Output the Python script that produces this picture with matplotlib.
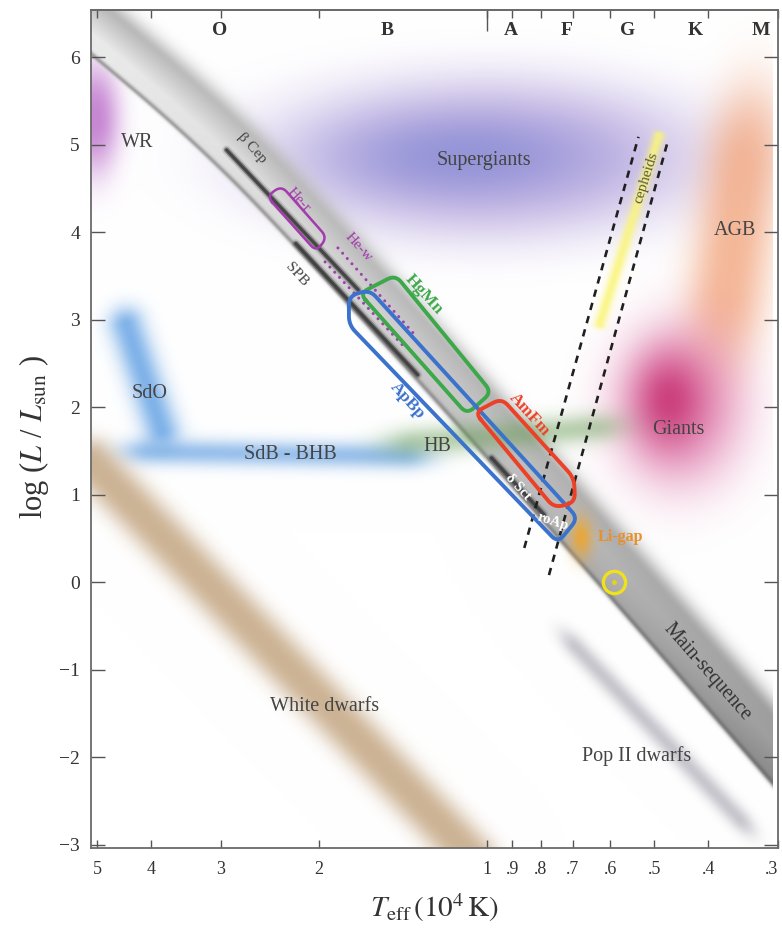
import numpy as np
import matplotlib
matplotlib.use("Agg")
import matplotlib.pyplot as plt

plt.rcParams['font.family'] = ['Liberation Serif', 'DejaVu Serif']
plt.rcParams['mathtext.fontset'] = 'stix'

# ---------------- axes ----------------
teff_ticks = [5, 4, 3, 2, 1, 0.9, 0.8, 0.7, 0.6, 0.5, 0.4, 0.3]
teff_labels = ['5', '4', '3', '2', '1', '.9', '.8', '.7', '.6', '.5', '.4', '.3']
logl_ticks = [-3, -2, -1, 0, 1, 2, 3, 4, 5, 6]
teff_range = [5.13, 0.307]          # 10^4 K
logl_range = [-3.04, 6.54]

spec_classes = ['O', 'B', 'A', 'F', 'G', 'K', 'M']
spec_teff = [3.01, 1.51, 0.906, 0.718, 0.559, 0.423, 0.322]

# ---------------- main-sequence ridge (Teff, log L) ----------------
ms_teff = [5.82, 5.13, 3.28, 2.18, 0.742, 0.281]
ms_logl = [6.73, 6.43, 5.39, 4.27, 0.96, -2.13]

# ---------------- populated regions ----------------
wr_teff, wr_logl = 5.05, 5.30
sg_teff, sg_logl = 1.00, 4.85
sg_core_teff, sg_core_logl = 1.10, 4.87
agb_teff, agb_logl = [0.348, 0.371], [4.71, 3.34]
giants_teff, giants_logl = 0.450, 2.00
giants_core_teff, giants_core_logl = 0.472, 2.08
cep_teff, cep_logl = [0.492, 0.629], [5.11, 2.94]
sdo_teff, sdo_logl = [4.43, 3.83], [2.94, 1.74]
sdb_teff, sdb_logl = [4.03, 1.416], [1.49, 1.44]
hb_teff, hb_logl = [1.343, 0.650], [1.60, 1.76]
wd_teff, wd_logl = [5.13, 1.063], [1.37, -3.14]
pop2_teff, pop2_logl = [0.692, 0.354], [-0.75, -2.70]
ligap_teff, ligap_logl = 0.678, 0.51
sun_teff, sun_logl = 0.59, 0.0

# instability strip boundaries
strip_blue_teff, strip_blue_logl = [0.856, 0.534], [0.39, 5.09]
strip_red_teff, strip_red_logl = [0.773, 0.474], [0.08, 5.02]

# pulsator sequences
bcep_teff, bcep_logl = [2.93, 1.70], [4.94, 3.34]
spb_teff, spb_logl = [2.20, 1.33], [3.87, 2.37]
dsct_teff, dsct_logl = [0.98, 0.789], [1.42, 0.77]
hew_teff = [[1.849, 1.343], [1.950, 1.416]]
hew_logl = [[3.82, 2.82], [3.66, 2.71]]

# chemically peculiar groups (outline corners)
her_teff, her_logl = [2.48, 2.335, 1.934, 2.023], [4.41, 4.53, 3.94, 3.78]
hgmn_teff, hgmn_logl = [1.690, 1.458, 0.980, 1.085], [3.30, 3.51, 2.17, 1.92]
apbp_teff = [1.767, 1.622, 0.686, 0.745, 1.767]
apbp_logl = [3.27, 3.34, 0.73, 0.45, 2.94]
amfm_teff = [1.050, 0.940, 0.697, 0.694, 0.757]
amfm_logl = [1.94, 2.10, 1.19, 0.91, 0.85]

# region names
region_names = ['WR', 'Supergiants', 'AGB', 'Giants', 'SdO', 'SdB - BHB', 'HB',
                'White dwarfs', 'Pop II dwarfs']
region_teff = [4.23, 1.012, 0.359, 0.4535, 4.03, 2.25, 1.227, 1.958, 0.537]
region_logl = [5.02, 4.82, 4.02, 1.74, 2.16, 1.46, 1.55, -1.42, -1.99]

# ---------------- figure ----------------
fig = plt.figure(figsize=(7.82, 9.40), dpi=100)
ax = fig.add_axes([91 / 782, 92 / 940, 687 / 782, 838 / 940])
lg = np.log10
ax.set_xlim(lg(teff_range[0]), lg(teff_range[1]))
ax.set_ylim(*logl_range)

bb = ax.bbox
W, H = bb.width, bb.height


def to_px(T, L):
    pts = ax.transData.transform(np.column_stack([lg(np.atleast_1d(T)),
                                                  np.atleast_1d(L)]))
    return pts[:, 0] - bb.x0, bb.y1 - pts[:, 1]


def from_px(u, v):
    d = ax.transData.inverted().transform(np.column_stack([u + bb.x0, bb.y1 - v]))
    return d[:, 0], d[:, 1]


def chaikin(P, iters=4):
    for _ in range(iters):
        Q = [P[0]]
        for a, b in zip(P[:-1], P[1:]):
            Q.append(0.75 * a + 0.25 * b)
            Q.append(0.25 * a + 0.75 * b)
        Q.append(P[-1])
        P = np.array(Q)
    return P


S = 1.5
nx, ny = int(W * S), int(H * S)
UU, VV = np.meshgrid((np.arange(nx) + 0.5) / S, (np.arange(ny) + 0.5) / S)
img = np.ones((ny, nx, 3))


def paint(alpha, rgb, amp=1.0):
    a = (amp * alpha)[..., None]
    col = np.asarray(rgb, dtype=float) / 255.0
    img[:] = img * (1 - a) + col * a


def blob(T, L, a, b, p=1.0):
    u, v = to_px(T, L)
    r2 = ((UU - u[0]) / a) ** 2 + ((VV - v[0]) / b) ** 2
    return np.exp(-r2 ** p)


def streak(T, L, hw, he=None, p=1.0):
    u, v = to_px(T, L)
    du, dv = u[1] - u[0], v[1] - v[0]
    ln = np.hypot(du, dv)
    ex, ey = du / ln, dv / ln
    rx, ry = UU - u[0], VV - v[0]
    t = rx * ex + ry * ey
    d = -rx * ey + ry * ex
    e = np.maximum(0, -t) + np.maximum(0, t - ln)
    he = hw if he is None else he
    r2 = (d / hw) ** 2 + (e / he) ** 2
    return np.exp(-r2 ** p)


# regions lying behind the main sequence
paint(blob(wr_teff, wr_logl, 25, 55, 1.2), (185, 105, 200), 0.8)
paint(blob(sg_teff, sg_logl, 225, 82, 1.6), (170, 148, 215), 0.72)
paint(blob(sg_core_teff, sg_core_logl, 130, 42, 1.1), (105, 120, 205), 0.5)

# main-sequence band: signed distance from the (smoothed) ridge
mu, mv = to_px(ms_teff, ms_logl)
R = chaikin(np.column_stack([mu, mv]))
mu, mv = R[:, 0], R[:, 1]
best = np.full(UU.shape, np.inf)
sd = np.zeros(UU.shape)
for i in range(len(mu) - 1):
    du, dv = mu[i + 1] - mu[i], mv[i + 1] - mv[i]
    ln = np.hypot(du, dv)
    ex, ey = du / ln, dv / ln
    rx, ry = UU - mu[i], VV - mv[i]
    t = np.clip(rx * ex + ry * ey, 0, ln)
    dist = np.hypot(rx - t * ex, ry - t * ey)
    m = dist < best
    best[m] = dist[m]
    sd[m] = (-rx * ey + ry * ex)[m]
s = np.clip(UU / W, 0, 1)
g = 234 - 76 * s ** 1.5
g -= 55 * np.clip((10 - sd) / 30, 0, 1) * (1 - s) ** 1.2
g -= 25 * s * np.clip(sd / 29, 0, 1)
g -= 85 * np.exp(-((sd - 26.5) / 2.5) ** 2) * (1 - 0.6 * s)
a_band = 1 / (1 + np.exp((sd - 28.5) / 1.0))
a_band *= np.exp(-(np.maximum(0, -sd - 16) / 14) ** 2)
ab = a_band[..., None]
img[:] = img * (1 - ab) + (g[..., None] / 255.0) * ab

# remaining regions
paint(streak(agb_teff, agb_logl, 40, 85, 1.2), (242, 165, 125), 0.78)
paint(blob(giants_teff, giants_logl, 68, 82, 1.3), (222, 118, 170), 0.72)
paint(blob(giants_core_teff, giants_core_logl, 36, 48, 1.0), (195, 35, 105), 0.75)
paint(streak(cep_teff, cep_logl, 6, 4, 1.0), (250, 245, 120), 0.85)
paint(streak(sdo_teff, sdo_logl, 18, 18, 1.0), (80, 150, 225), 0.72)
paint(streak(sdb_teff, sdb_logl, 13, 30, 1.0), (100, 160, 225), 0.65)
paint(streak(hb_teff, hb_logl, 15, 35, 1.0), (100, 155, 80), 0.45)
paint(streak(wd_teff, wd_logl, 24, 24, 1.3), (185, 150, 108), 0.72)
paint(streak(pop2_teff, pop2_logl, 10, 22, 1.0), (130, 130, 145), 0.45)
paint(blob(ligap_teff, ligap_logl, 11, 20, 1.0), (240, 165, 40), 0.85)

xl, yl = ax.get_xlim(), ax.get_ylim()
ax.imshow(img, extent=(xl[0], xl[1], yl[0], yl[1]), origin='upper',
          aspect='auto', interpolation='bilinear', zorder=0)
ax.set_xlim(xl)
ax.set_ylim(yl)


def disp_angle(T, L):
    u, v = to_px(T, L)
    return np.degrees(np.arctan2(-(v[-1] - v[0]), u[-1] - u[0]))


# pulsator sequences (soft dark stripes)
for tt, ll in [(bcep_teff, bcep_logl), (spb_teff, spb_logl), (dsct_teff, dsct_logl)]:
    for lw, al in [(6.5, 0.15), (4.0, 0.45), (2.2, 0.85)]:
        ax.plot(lg(tt), ll, color='#3a3a3a', lw=lw, alpha=al,
                solid_capstyle='round', zorder=2)

# He-w dotted band
for tt, ll in zip(hew_teff, hew_logl):
    ax.plot(lg(tt), ll, color='#a040b0', lw=2.2, ls=(0, (0.01, 2.3)),
            dash_capstyle='round', zorder=3)

# instability strip
for tt, ll in [(strip_blue_teff, strip_blue_logl), (strip_red_teff, strip_red_logl)]:
    ax.plot(lg(tt), ll, color='#202020', lw=1.9, ls=(0, (2.8, 2.4)), zorder=3)


def rounded_outline(T, L, r=9.0, n=10):
    u, v = to_px(T, L)
    P = np.column_stack([u, v])
    m = len(P)
    out = []
    for i in range(m):
        A, B, C = P[i - 1], P[i], P[(i + 1) % m]
        l1, l2 = np.linalg.norm(A - B), np.linalg.norm(C - B)
        rr = min(r, 0.45 * l1, 0.45 * l2)
        p1 = B + rr * (A - B) / l1
        p2 = B + rr * (C - B) / l2
        t = np.linspace(0, 1, n)[:, None]
        out.append((1 - t) ** 2 * p1 + 2 * (1 - t) * t * B + t ** 2 * p2)
    out = np.vstack(out + [out[0][:1]])
    return from_px(out[:, 0], out[:, 1])


for tt, ll, col, lw in [(her_teff, her_logl, '#a33aae', 1.8),
                        (hgmn_teff, hgmn_logl, '#3da84a', 2.8),
                        (apbp_teff, apbp_logl, '#3a72cc', 2.8),
                        (amfm_teff, amfm_logl, '#ec4128', 2.8)]:
    x, y = rounded_outline(tt, ll)
    ax.plot(x, y, color=col, lw=lw, solid_joinstyle='round', zorder=4)

# the Sun
ax.plot(lg(sun_teff), sun_logl, 'o', ms=16, mfc='none', mec='#f0e01e', mew=2.4, zorder=5)
ax.plot(lg(sun_teff), sun_logl, 'o', ms=2.5, color='#e6d21e', zorder=5)

# ---------------- labels ----------------
txt_col = '#444444'
for name, tt, ll in zip(region_names, region_teff, region_logl):
    ax.text(lg(tt), ll, name, fontsize=14.5, color=txt_col, ha='center',
            va='center', zorder=6)

ang_ms = disp_angle(ms_teff[-2:], ms_logl[-2:])
ax.text(lg(0.4027), -1.03, 'Main-sequence', fontsize=14.5, color='#333333',
        rotation=ang_ms, rotation_mode='anchor', ha='center', va='center', zorder=6)

ang = disp_angle(ms_teff[3:5], ms_logl[3:5])
rot_labels = [('β Cep', 2.641, 4.96, '#444444', 11, 'normal'),
              ('SPB', 2.196, 3.51, '#444444', 11, 'normal'),
              ('He-r', 2.178, 4.37, '#a33aae', 11, 'normal'),
              ('He-w', 1.696, 3.83, '#a33aae', 11, 'normal'),
              ('HgMn', 1.294, 3.29, '#3da84a', 12.5, 'bold'),
              ('ApBp', 1.388, 2.07, '#3a72cc', 12.5, 'bold'),
              ('AmFm', 0.839, 1.91, '#ec4128', 12.5, 'bold'),
              ('δ Sct', 0.877, 1.09, 'white', 10.5, 'bold')]
for name, tt, ll, col, fs, fw in rot_labels:
    ax.text(lg(tt), ll, name, fontsize=fs, color=col, fontweight=fw,
            rotation=ang, rotation_mode='anchor', ha='center', va='center', zorder=6)

ax.text(lg(0.760), 0.69, 'roAp', fontsize=10.5, color='white', fontweight='bold',
        rotation=-18, rotation_mode='anchor', ha='center', va='center', zorder=6)
ax.text(lg(0.575), 0.51, 'Li-gap', fontsize=11.5, color='#e8902a', fontweight='bold',
        ha='center', va='center', zorder=6)
ax.text(lg(0.517), 4.62, 'cepheids', fontsize=11, color='#5a5a3a',
        rotation=disp_angle(cep_teff[::-1], cep_logl[::-1]), rotation_mode='anchor',
        ha='center', va='center', zorder=6)

# spectral classes along the top
for c, tt in zip(spec_classes, spec_teff):
    ax.text(lg(tt), 0.976, c, transform=ax.get_xaxis_transform(), fontsize=14,
            fontweight='bold', color='#333333', ha='center', va='center')

# ---------------- ticks / spines ----------------
ax.set_xticks(lg(teff_ticks))
ax.set_xticklabels(teff_labels)
ax.get_xticklabels()[-1].set_horizontalalignment('right')
ax.set_yticks(logl_ticks)
ax.tick_params(axis='x', direction='in', length=6, width=1.0, top=True, bottom=True,
               labelsize=13, pad=9, color='#555555', labelcolor='#333333')
ax.tick_params(axis='y', direction='in', length=10, width=1.0, left=True, right=True,
               labelsize=14, pad=8, color='#555555', labelcolor='#333333')
sec = ax.secondary_xaxis('top')
sec.set_xticks([0.0])
sec.set_xticklabels([])
sec.tick_params(direction='in', length=15, width=1.0, color='#555555')
for sp in list(ax.spines.values()) + list(sec.spines.values()):
    sp.set_color('#6a6a6a')
    sp.set_linewidth(1.3)

ax.set_xlabel(r'$T_{\rm eff}\,(10^4\,{\rm K})$', fontsize=21, color='#333333')
ax.xaxis.set_label_coords(0.5, -0.052)
ax.set_ylabel(r'log ($L$ / $L_{\rm sun}$ )', fontsize=22, color='#333333')
ax.yaxis.set_label_coords(-0.058, 0.49)

fig.savefig('out.png', dpi=100)
